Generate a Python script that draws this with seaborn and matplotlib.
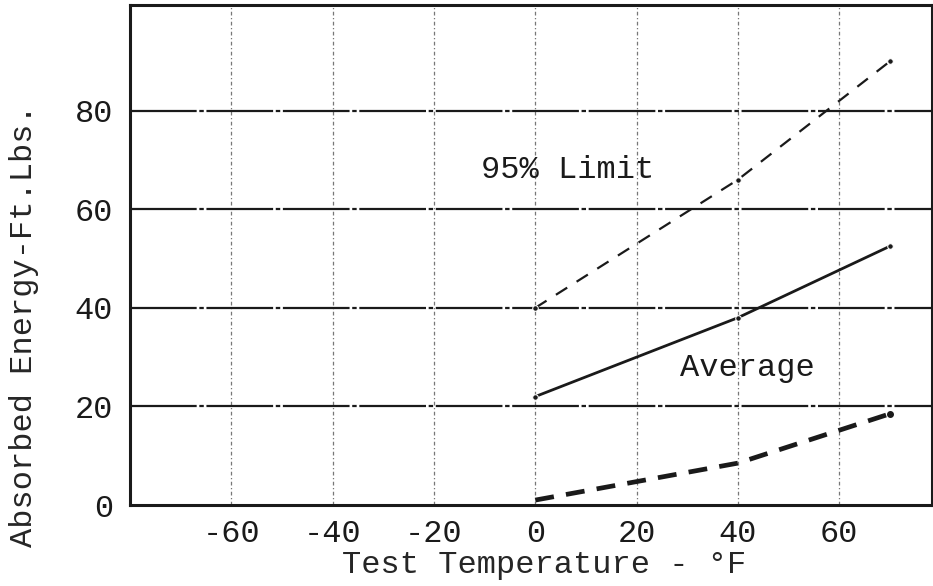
import matplotlib
matplotlib.use("Agg")
import matplotlib.pyplot as plt
import seaborn as sns
import pandas as pd

# Charpy impact test results versus test temperature
temperature_f = [0, 40, 70]
upper_limit = [40, 66, 90]      # 95% upper limit
average = [22, 38, 52.5]        # average absorbed energy
lower_limit = [1, 8.5, 18.5]    # 95% lower limit

x_ticks = [-60, -40, -20, 0, 20, 40, 60]
y_ticks = [0, 20, 40, 60, 80]

sns.set_theme(style="white")
plt.rcParams["font.family"] = ["Liberation Mono", "DejaVu Sans Mono"]
plt.rcParams["text.color"] = "#1a1a1a"

fig = plt.figure(figsize=(9.33, 5.86), dpi=100)
ax = fig.add_axes([0.1393, 0.1382, 0.8596, 0.853])

df = pd.DataFrame({
    "temp": temperature_f * 3,
    "energy": upper_limit + average + lower_limit,
    "series": ["upper"] * 3 + ["avg"] * 3 + ["lower"] * 3,
})

sns.lineplot(data=df[df.series == "upper"], x="temp", y="energy", ax=ax,
             color="#1a1a1a", lw=1.6, marker="o", markersize=4,
             linestyle=(0, (6, 5)), zorder=4)
sns.lineplot(data=df[df.series == "avg"], x="temp", y="energy", ax=ax,
             color="#1a1a1a", lw=2.0, marker="o", markersize=4, zorder=4)
sns.lineplot(data=df[df.series == "lower"], x="temp", y="energy", ax=ax,
             color="#1a1a1a", lw=3.4, linestyle=(0, (4, 2.6)), zorder=4)
ax.plot(temperature_f[-1], lower_limit[-1], "o", color="#1a1a1a",
        markersize=4, zorder=5)

ax.set_xlim(-80, 78.3)
ax.set_ylim(0, 101.4)
ax.set_xticks(x_ticks)
ax.set_yticks(y_ticks)
ax.set_xticklabels([str(v) for v in x_ticks])
ax.set_yticklabels([str(v) for v in y_ticks])

# grid: strong horizontal rules, light dash-dot verticals
for yv in y_ticks[1:]:
    ax.axhline(yv, color="#1a1a1a", lw=1.6, linestyle=(0, (30, 1.2, 2, 1.2)),
               zorder=2)
for xv in x_ticks:
    ax.axvline(xv, color="#555555", lw=0.9, linestyle=(0, (3, 2, 1, 2)),
               alpha=0.8, zorder=1)

for s in ax.spines.values():
    s.set_visible(True)
    s.set_color("#1a1a1a")
    s.set_linewidth(2.2)

ax.tick_params(axis="both", length=0, labelsize=23, colors="#1a1a1a")
ax.tick_params(axis="x", pad=10)
ax.tick_params(axis="y", pad=12)

ax.set_xlabel("Test Temperature - °F", fontsize=23)
ax.set_ylabel("Absorbed Energy-Ft.Lbs.", fontsize=23)
ax.yaxis.set_label_coords(-0.113, 0.358)
ax.xaxis.set_label_coords(0.517, -0.09)

ax.text(6.3, 68, "95% Limit", fontsize=23, ha="center", va="center",
        zorder=6)
ax.text(41.8, 27.8, "Average", fontsize=23, ha="center", va="center",
        zorder=6)

fig.savefig("out.png", dpi=100, facecolor="white")
